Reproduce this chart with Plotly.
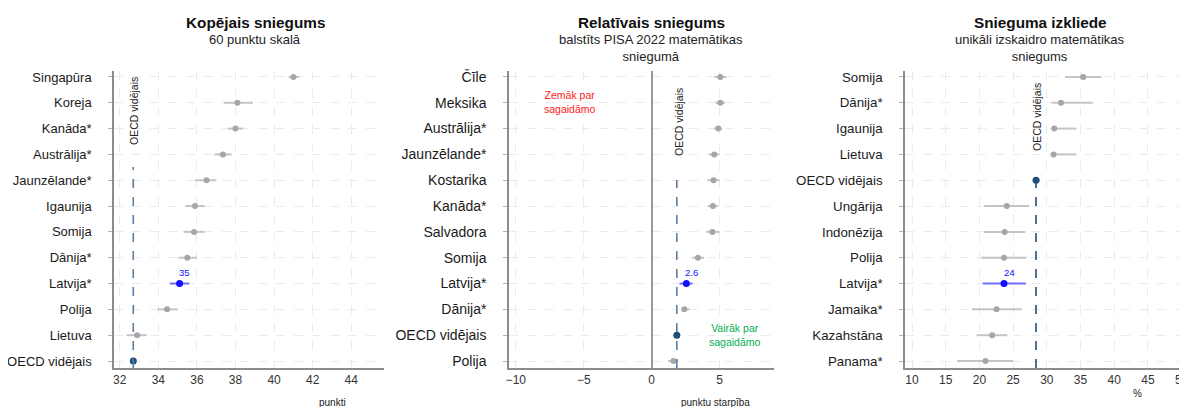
import plotly.graph_objects as go

# panel 1: Kopējais sniegums
p1_countries = ["Singapūra", "Koreja", "Kanāda*", "Austrālija*", "Jaunzēlande*", "Igaunija",
                "Somija", "Dānija*", "Latvija*", "Polija", "Lietuva", "OECD vidējais"]
p1_mean = [41.0, 38.1, 38.0, 37.35, 36.5, 35.9, 35.85, 35.5, 35.1, 34.45, 32.9, 32.7]
p1_lo = [40.75, 37.4, 37.6, 36.9, 35.9, 35.4, 35.3, 35.05, 34.6, 33.95, 32.35, 32.7]
p1_hi = [41.3, 38.9, 38.4, 37.8, 37.0, 36.4, 36.4, 36.0, 35.6, 35.0, 33.4, 32.7]
p1_ticks = [32, 34, 36, 38, 40, 42, 44]

# panel 2: Relatīvais sniegums
p2_countries = ["Čīle", "Meksika", "Austrālija*", "Jaunzēlande*", "Kostarika", "Kanāda*",
                "Salvadora", "Somija", "Latvija*", "Dānija*", "OECD vidējais", "Polija"]
p2_mean = [5.05, 5.05, 4.9, 4.6, 4.55, 4.5, 4.47, 3.4, 2.55, 2.4, 1.85, 1.6]
p2_lo = [4.6, 4.7, 4.6, 4.2, 4.1, 4.1, 4.0, 3.0, 2.05, 2.2, 1.85, 1.2]
p2_hi = [5.5, 5.4, 5.2, 5.0, 5.0, 4.9, 5.0, 3.85, 3.0, 2.8, 1.85, 1.95]
p2_ticks = [-10, -5, 0, 5]

# panel 3: Snieguma izkliede
p3_countries = ["Somija", "Dānija*", "Igaunija", "Lietuva", "OECD vidējais", "Ungārija",
                "Indonēzija", "Polija", "Latvija*", "Jamaika*", "Kazahstāna", "Panama*"]
p3_mean = [35.4, 32.1, 31.1, 31.0, 28.4, 24.05, 23.75, 23.65, 23.65, 22.55, 21.9, 20.9]
p3_lo = [32.7, 30.7, 31.1, 31.0, 28.0, 20.7, 20.7, 20.3, 20.5, 18.9, 19.6, 16.7]
p3_hi = [38.1, 36.8, 34.4, 34.4, 28.9, 27.4, 26.8, 27.0, 26.9, 26.3, 24.15, 25.0]
p3_ticks = [10, 15, 20, 25, 30, 35, 40, 45, 50]

latvia_labels = ["35", "2.6", "24"]

FONT = "Liberation Sans, Arial, sans-serif"
GRAY_DOT = "#a6a6a6"
GRAY_ERR = "#c4c4c4"
BLUE = "#1010ff"
BLUE_ERR = "#6f6fff"
NAVY = "#1f4e79"

# page has an 8px body margin, so the figure is 8px smaller and shifted
OFF = 8
W, H = 1187 - OFF, 407 - OFF


def px(x):
    return (x - OFF) / W


def py(y):
    return 1 - (y - OFF) / H


fig = go.Figure()

panels = [
    (p1_countries, p1_mean, p1_lo, p1_hi, "x", "y"),
    (p2_countries, p2_mean, p2_lo, p2_hi, "x2", "y2"),
    (p3_countries, p3_mean, p3_lo, p3_hi, "x3", "y3"),
]

for i, (names, mean, lo, hi, xa, ya) in enumerate(panels):
    groups = {"gray": [], "lv": [], "oecd": []}
    for j, n in enumerate(names):
        if n == "Latvija*":
            groups["lv"].append(j)
        elif n == "OECD vidējais":
            groups["oecd"].append(j)
        else:
            groups["gray"].append(j)
    styles = {
        "gray": (GRAY_DOT, GRAY_ERR, 6),
        "lv": (BLUE, BLUE_ERR, 7),
        "oecd": (NAVY, NAVY, 7),
    }
    for key, idx in groups.items():
        dot_c, err_c, size = styles[key]
        fig.add_trace(go.Scatter(
            x=[mean[j] for j in idx],
            y=[names[j] for j in idx],
            mode="markers",
            marker=dict(color=dot_c, size=size),
            error_x=dict(
                type="data", symmetric=False,
                array=[hi[j] - mean[j] for j in idx],
                arrayminus=[mean[j] - lo[j] for j in idx],
                color=err_c, thickness=2, width=0,
            ),
            xaxis=xa, yaxis=ya, showlegend=False, hoverinfo="x+y",
        ))
    # OECD average dashed line
    oecd_val = mean[names.index("OECD vidējais")]
    lv = names.index("Latvija*")
    fig.add_annotation(x=mean[lv], y=names[lv], xref=xa, yref=ya, text=latvia_labels[i],
                       showarrow=False, xshift=5, yshift=11,
                       font=dict(family=FONT, size=9.5, color=BLUE))
    dash_color = NAVY if i == 2 else "#5b7fa3"
    start = [0.677, 0.633, 0.667][i]
    fig.add_shape(type="line", xref=xa, yref=ya + " domain", x0=oecd_val, x1=oecd_val,
                  y0=0, y1=start, line=dict(color=dash_color, width=1.6, dash="dash"))

ydom = [py(368), py(71)]
axis_common = dict(showline=True, linecolor="#8c8c8c", linewidth=1.5, showgrid=True,
                   gridcolor="#ebebeb", griddash="dash", gridwidth=1, zeroline=False,
                   tickfont=dict(family=FONT, size=12, color="#333333"), ticks="",
                   automargin=False, ticklabeloverflow="allow")
yaxis_common = dict(showline=True, linecolor="#8c8c8c", linewidth=1.5, showgrid=True,
                    gridcolor="#ebebeb", griddash="dash", gridwidth=1, zeroline=False,
                    ticks="outside", ticklen=4, tickcolor="#b0b0b0", tickwidth=1,
                    ticklabelstandoff=14, type="category", range=[11.27, -0.23],
                    domain=ydom, automargin=False)

fig.update_layout(
    width=W, height=H,
    margin=dict(l=0, r=0, t=0, b=0, autoexpand=False),
    paper_bgcolor="white", plot_bgcolor="white",
    font=dict(family=FONT, color="#404040"),
    xaxis=dict(axis_common, domain=[px(114), px(384)], range=[31.7, 45.7],
               tickvals=p1_ticks, anchor="y"),
    yaxis=dict(yaxis_common, anchor="x", categoryorder="array", categoryarray=p1_countries,
               tickfont=dict(family=FONT, size=13, color="#1a1a1a")),
    xaxis2=dict(axis_common, domain=[px(509), px(774)], range=[-10.5, 9.0],
                tickvals=p2_ticks, anchor="y2", zeroline=True, zerolinecolor="#9a9a9a",
                zerolinewidth=1.5),
    yaxis2=dict(yaxis_common, anchor="x2", categoryorder="array", categoryarray=p2_countries,
                tickfont=dict(family=FONT, size=14, color="#1a1a1a")),
    xaxis3=dict(axis_common, domain=[px(905), 1.0], range=[8.96, 50.8],
                tickvals=p3_ticks, anchor="y3"),
    yaxis3=dict(yaxis_common, anchor="x3", categoryorder="array", categoryarray=p3_countries,
                tickfont=dict(family=FONT, size=13.3, color="#1a1a1a")),
)

# titles
titles = [
    (255, "<b>Kopējais sniegums</b>", "60 punktu skalā"),
    (651, "<b>Relatīvais sniegums</b>", "balstīts PISA 2022 matemātikas<br>sniegumā"),
    (1040, "<b>Snieguma izkliede</b>", "unikāli izskaidro matemātikas<br>sniegums"),
]
for xc, t, sub in titles:
    fig.add_annotation(x=px(xc), y=py(12), xref="paper", yref="paper", text=t,
                       showarrow=False, xanchor="center", yanchor="top",
                       font=dict(family=FONT, size=15.3, color="#111111"))
    fig.add_annotation(x=px(xc), y=py(30), xref="paper", yref="paper", text=sub,
                       showarrow=False, xanchor="center", yanchor="top",
                       font=dict(family=FONT, size=13, color="#222222"))

# axis titles
for xc, yc, t in [(332, 402, "punkti"), (715, 402, "punktu starpība"), (1137, 393, "%")]:
    fig.add_annotation(x=px(xc), y=py(yc), xref="paper", yref="paper", text=t,
                       showarrow=False, xanchor="center", yanchor="middle",
                       font=dict(family=FONT, size=10, color="#222222"))

# OECD vidējais rotated labels
for xc, yc in [(134, 111), (679, 122), (1037, 117)]:
    fig.add_annotation(x=px(xc), y=py(yc), xref="paper", yref="paper", text="OECD vidējais",
                       textangle=-90, showarrow=False, xanchor="center", yanchor="middle",
                       font=dict(family=FONT, size=10.5, color="#222222"))

# notes in panel 2
fig.add_annotation(x=px(570), y=py(102), xref="paper", yref="paper",
                   text="Zemāk par<br>sagaidāmo", showarrow=False,
                   xanchor="center", yanchor="middle",
                   font=dict(family=FONT, size=10.5, color="#ff2020"))
fig.add_annotation(x=px(735), y=py(335), xref="paper", yref="paper",
                   text="Vairāk par<br>sagaidāmo", showarrow=False,
                   xanchor="center", yanchor="middle",
                   font=dict(family=FONT, size=10.5, color="#00b050"))

fig.write_html("out.html")
